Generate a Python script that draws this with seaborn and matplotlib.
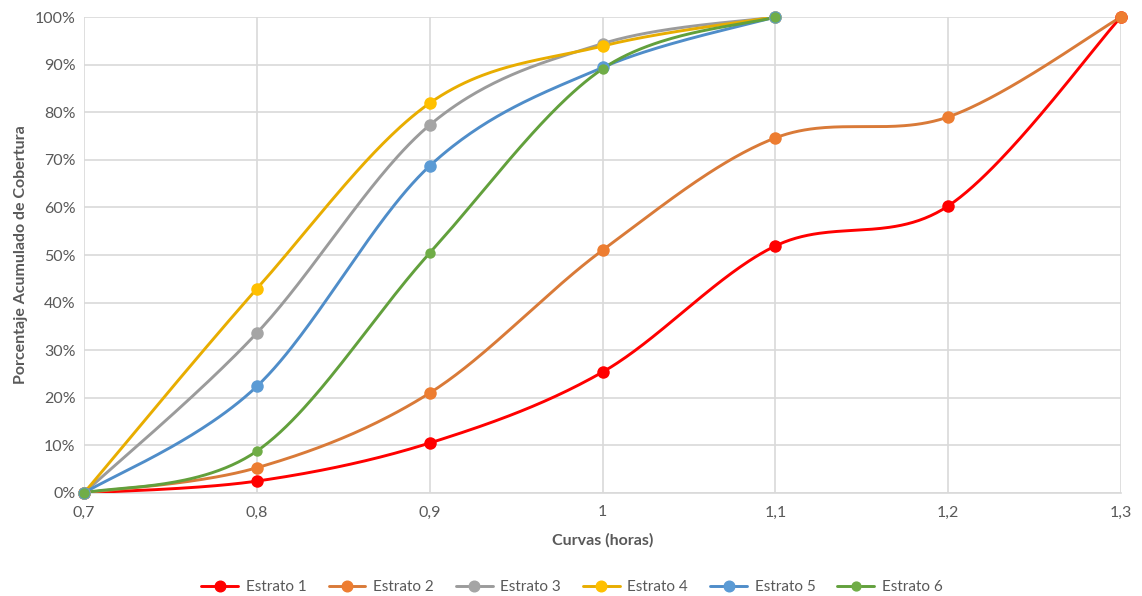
import numpy as np
import pandas as pd
import matplotlib
matplotlib.use("Agg")
import matplotlib.pyplot as plt
from matplotlib.lines import Line2D
from matplotlib.ticker import FuncFormatter, MultipleLocator
import seaborn as sns

# Data: cumulative coverage (%) per stratum against hours
x_long = [0.7, 0.8, 0.9, 1.0, 1.1, 1.2, 1.3]
x_short = [0.7, 0.8, 0.9, 1.0, 1.1]
estrato_1 = [0.0, 2.5, 10.5, 25.4, 51.9, 60.3, 100.0]
estrato_2 = [0.0, 5.3, 21.0, 51.0, 74.6, 79.0, 100.0]
estrato_3 = [0.0, 33.6, 77.3, 94.4, 100.0]
estrato_4 = [0.0, 42.9, 81.9, 93.9, 100.0]
estrato_5 = [0.0, 22.4, 68.7, 89.4, 100.0]
estrato_6 = [0.0, 8.8, 50.4, 89.1, 100.0]
series_names = ["Estrato 1", "Estrato 2", "Estrato 3", "Estrato 4", "Estrato 5", "Estrato 6"]
x_ticks = [0.7, 0.8, 0.9, 1.0, 1.1, 1.2, 1.3]
x_tick_labels = ["0,7", "0,8", "0,9", "1", "1,1", "1,2", "1,3"]

marker_colors = ["#FF0000", "#ED7D31", "#A5A5A5", "#FFC000", "#5B9BD5", "#70AD47"]
line_colors = ["#FF0000", "#D97A38", "#9B9B9B", "#E8AD00", "#4F8DC9", "#62A03C"]
marker_sizes = [9, 9, 9, 9, 9, 7.5]

series = [
    (x_long, estrato_1), (x_long, estrato_2), (x_short, estrato_3),
    (x_short, estrato_4), (x_short, estrato_5), (x_short, estrato_6),
]


def smooth(xs, ys, n=60):
    """Cardinal (Catmull-Rom) Bezier smoothing through every point."""
    p = np.column_stack([xs, ys]).astype(float)
    ext = np.vstack([p[0], p, p[-1]])
    out = [p[0]]
    t = np.linspace(0, 1, n)[1:, None]
    for i in range(len(p) - 1):
        p0, p1, p2, p3 = ext[i], ext[i + 1], ext[i + 2], ext[i + 3]
        c1 = p1 + (p2 - p0) / 6.0
        c2 = p2 - (p3 - p1) / 6.0
        seg = ((1 - t) ** 3) * p1 + 3 * ((1 - t) ** 2) * t * c1 + 3 * (1 - t) * t ** 2 * c2 + t ** 3 * p2
        out.extend(seg)
    out = np.array(out)
    return out[:, 0], out[:, 1]


sns.set_theme(style="white")
plt.rcParams["font.family"] = ["Lato", "DejaVu Sans"]

fig = plt.figure(figsize=(11.42, 5.96), dpi=100)
ax = fig.add_axes([84 / 1142, 1 - 493 / 596, (1121 - 84) / 1142, (493 - 17) / 596])

for (xs, ys), name, lc, mc, ms in zip(series, series_names, line_colors, marker_colors, marker_sizes):
    sx, sy = smooth(xs, ys)
    curve = pd.DataFrame({"x": sx, "y": sy})
    sns.lineplot(data=curve, x="x", y="y", sort=False, estimator=None, color=lc,
                 linewidth=2.1, ax=ax, zorder=3)
    pts = pd.DataFrame({"x": xs, "y": ys})
    sns.scatterplot(data=pts, x="x", y="y", color=mc, s=ms ** 2, edgecolor=mc,
                    linewidth=0, ax=ax, zorder=4, clip_on=False)

ax.set_xlim(0.7, 1.3)
ax.set_ylim(0, 100)
ax.set_xticks(x_ticks)
ax.set_xticklabels(x_tick_labels)
ax.yaxis.set_major_locator(MultipleLocator(10))
ax.yaxis.set_major_formatter(FuncFormatter(lambda v, _: f"{int(round(v))}%"))
ax.grid(True, color="#D9D9D9", linewidth=1.2)
ax.set_axisbelow(True)
for side in ["top", "right", "left"]:
    ax.spines[side].set_visible(False)
ax.spines["bottom"].set_color("#D9D9D9")
ax.spines["bottom"].set_linewidth(1.2)
ax.tick_params(axis="both", length=0, labelsize=11.5, labelcolor="#595959")
ax.tick_params(axis="x", pad=9)
ax.tick_params(axis="y", pad=6)

ax.set_xlabel("Curvas (horas)", fontsize=11.5, fontweight="bold", color="#595959", labelpad=10)
ax.set_ylabel("Porcentaje Acumulado de Cobertura", fontsize=11.5, fontweight="bold",
              color="#595959", labelpad=5)

handles = [Line2D([0], [0], color=lc, lw=2.1, marker="o", markersize=ms * 0.85,
                  markerfacecolor=mc, markeredgecolor=mc)
           for lc, mc, ms in zip(line_colors, marker_colors, marker_sizes)]
fig.legend(handles, series_names, loc="center", bbox_to_anchor=(572 / 1142, 1 - 587 / 596),
           ncol=6, frameon=False, fontsize=11, labelcolor="#595959", handlelength=2.4,
           columnspacing=1.45, handletextpad=0.5)

fig.savefig("out.png", dpi=100)
